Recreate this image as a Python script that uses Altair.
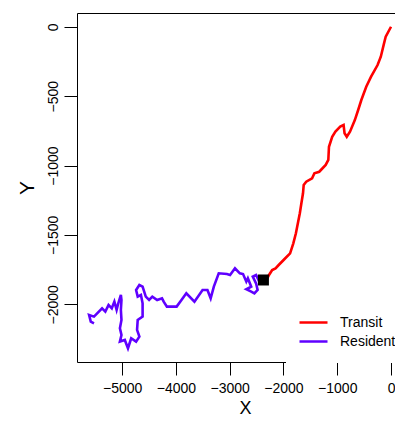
import altair as alt
import pandas as pd

# Transit segment (red)
transit_x = [0, -99, -130, -190, -250, -371, -461, -552, -611, -673, -763, -823, -864, -882,
             -944, -1034, -1094, -1154, -1166, -1215, -1335, -1425, -1468, -1577, -1624,
             -1637, -1667, -1696, -1769, -1817, -1877, -1998, -2089, -2148, -2210, -2269,
             -2300, -2373]
transit_y = [0, -72, -120, -216, -276, -360, -432, -528, -600, -673, -756, -793, -768, -708,
             -720, -756, -793, -865, -960, -996, -1045, -1056, -1092, -1117, -1140,
             -1200, -1272, -1344, -1488, -1561, -1633, -1681, -1717, -1741, -1753, -1789,
             -1813, -1825]

# Resident segment (purple)
resident_x = [-2373, -2450, -2510, -2571, -2510, -2481, -2541, -2600, -2691, -2600, -2662,
              -2691, -2752, -2812, -2902, -2993, -3052, -3204, -3295, -3354, -3414, -3505,
              -3656, -3807, -3897, -3987, -4168, -4228, -4259, -4349, -4439, -4499, -4561,
              -4620, -4680, -4741, -4711, -4651, -4620, -4620, -4711, -4723, -4680, -4741,
              -4832, -4892, -4951, -5042, -5013, -5042, -5013, -5024, -5013, -5024, -5072,
              -5103, -5145, -5193, -5253, -5313, -5374, -5465, -5524, -5615, -5584, -5524]
resident_y = [-1825, -1837, -1789, -1801, -1849, -1897, -1921, -1909, -1892, -1873, -1813,
              -1837, -1782, -1777, -1741, -1789, -1782, -1777, -1873, -1957, -1897, -1897,
              -1981, -1921, -1969, -2017, -2017, -1981, -1957, -1969, -1945, -1969, -1945,
              -1873, -1861, -1897, -1945, -1933, -1993, -2089, -2113, -2185, -2233, -2269,
              -2245, -2317, -2257, -2269, -2221, -2173, -2113, -2041, -1969, -1933, -1993,
              -2041, -1981, -2029, -2005, -2053, -2029, -2065, -2089, -2077, -2125, -2137]

# Switch point (black square)
switch_x = [-2373]
switch_y = [-1825]

x_ticks = [-5000, -4000, -3000, -2000, -1000, 0]
y_ticks = [0, -500, -1000, -1500, -2000]
legend_labels = ["Transit", "Resident"]
legend_colors = ["#FF0000", "#5F00FF"]

rows = []
for i, (x, y) in enumerate(zip(transit_x, transit_y)):
    rows.append({"x": x, "y": y, "state": "Transit", "i": i})
for i, (x, y) in enumerate(zip(resident_x, resident_y)):
    rows.append({"x": x, "y": y, "state": "Resident", "i": i})
df = pd.DataFrame(rows)

FONT = "Liberation Sans"
xs = alt.Scale(domain=[-5840, 74], nice=False, zero=False)
ys = alt.Scale(domain=[-2416, 99], nice=False, zero=False)

x_axis = alt.Axis(values=x_ticks, format="d", title="X", grid=False, domain=False,
                  tickSize=13, tickColor="black", tickWidth=1,
                  labelFont=FONT, labelFontSize=14, labelColor="black", labelPadding=6,
                  labelBaseline="top", labelFlush=False,
                  titleFont=FONT, titleFontSize=18, titleFontWeight="normal",
                  titleColor="black", titleX=168, titleY=51, titleBaseline="alphabetic",
                  titleAlign="center")
y_axis = alt.Axis(values=y_ticks, format="d", title="Y", grid=False, domain=False,
                  tickSize=13, tickColor="black", tickWidth=1,
                  labelFont=FONT, labelFontSize=14, labelColor="black", labelPadding=7,
                  labelAngle=270, labelAlign="center", labelBaseline="alphabetic",
                  labelFlush=False,
                  titleFont=FONT, titleFontSize=21, titleFontWeight="normal",
                  titleColor="black", titleAngle=270, titleX=-44, titleY=174.5,
                  titleBaseline="alphabetic", titleAlign="center")

legend = alt.Legend(title=None, orient="none", legendX=209, legendY=288,
                    fillColor="white", padding=12, symbolType="stroke",
                    symbolSize=784, symbolStrokeWidth=2.5,
                    labelFont=FONT, labelFontSize=14, labelColor="black",
                    labelOffset=11, clipHeight=19, rowPadding=0)

lines = alt.Chart(df).mark_line(strokeWidth=2.6, clip=True).encode(
    x=alt.X("x:Q", scale=xs, axis=x_axis),
    y=alt.Y("y:Q", scale=ys, axis=y_axis),
    color=alt.Color("state:N", scale=alt.Scale(domain=legend_labels, range=legend_colors),
                    legend=legend),
    order="i:Q",
)

square = alt.Chart(pd.DataFrame({"x": switch_x, "y": switch_y})).mark_square(
    size=121, color="black", opacity=1, clip=True
).encode(x=alt.X("x:Q", scale=xs), y=alt.Y("y:Q", scale=ys))

chart = alt.layer(lines, square).properties(
    width=318, height=349,
    autosize=alt.AutoSizeParams(type="none"),
    padding={"left": 69, "top": 5, "right": 0, "bottom": 55},
).configure_view(stroke="black", strokeWidth=1)

chart.save("out.html", embed_options={"renderer": "svg", "actions": False})
